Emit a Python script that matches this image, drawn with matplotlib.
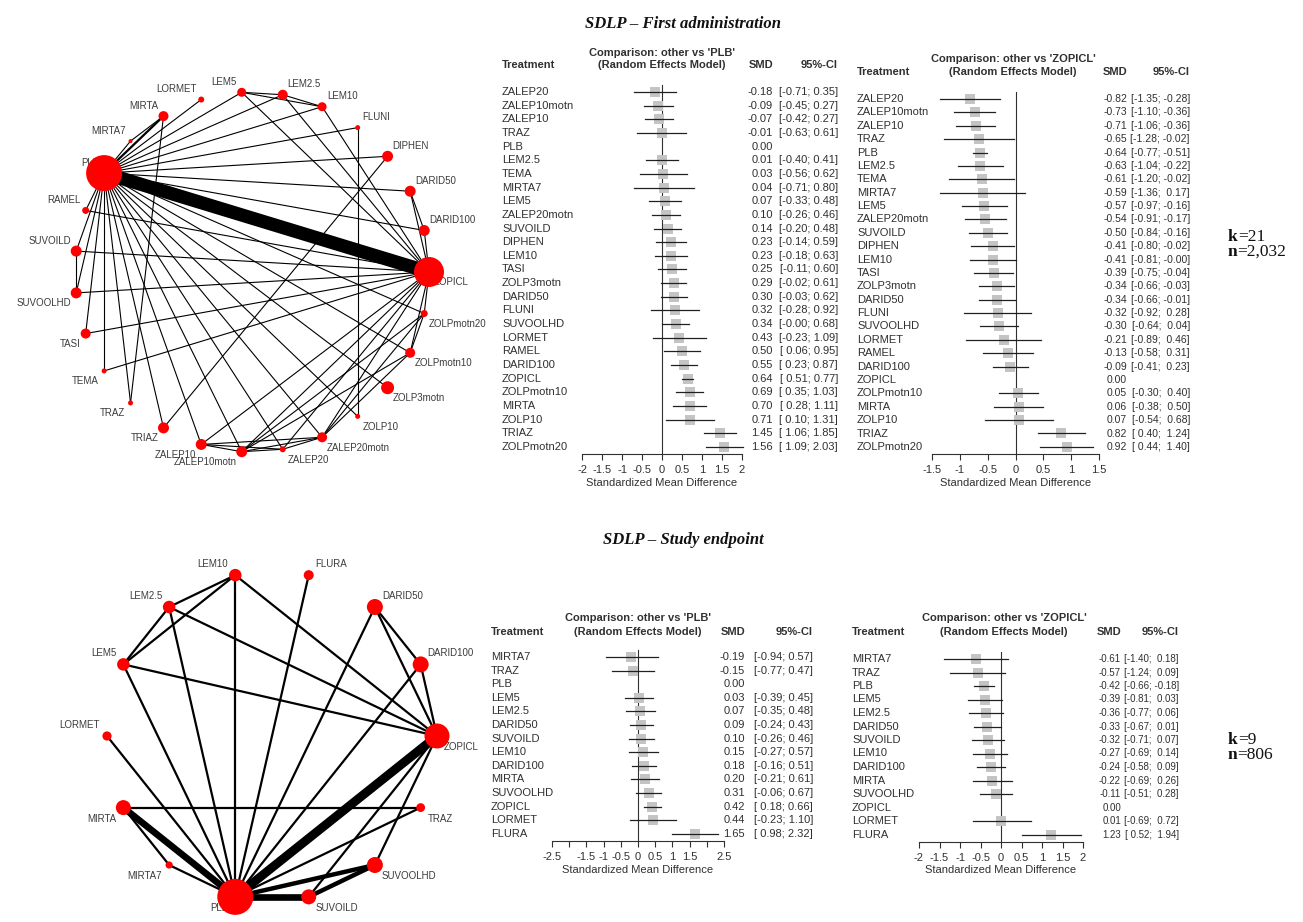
import numpy as np
import matplotlib.pyplot as plt

plt.rcParams['font.family'] = ['Liberation Sans', 'DejaVu Sans']

W, H = 1303, 922
INK = '#303030'
nan = np.nan

# ---------------- SDLP - first administration ----------------
# network: treatments (alphabetical, as placed around the circle)
net1_trt = ['DARID100', 'DARID50', 'DIPHEN', 'FLUNI', 'LEM10', 'LEM2.5', 'LEM5',
            'LORMET', 'MIRTA', 'MIRTA7', 'PLB', 'RAMEL', 'SUVOILD', 'SUVOOLHD',
            'TASI', 'TEMA', 'TRAZ', 'TRIAZ', 'ZALEP10', 'ZALEP10motn', 'ZALEP20',
            'ZALEP20motn', 'ZOLP10', 'ZOLP3motn', 'ZOLPmotn10', 'ZOLPmotn20', 'ZOPICL']
# participants per treatment
net1_n = [110, 110, 110, 50, 90, 100, 90, 60, 100, 40, 360, 70, 110, 110,
          100, 50, 50, 110, 110, 110, 60, 100, 50, 130, 100, 70, 300]
# direct comparisons: (treatment, treatment, number of studies)
net1_edges = [
    ('PLB', 'ZOPICL', 12), ('PLB', 'MIRTA', 2), ('PLB', 'DARID100', 1), ('PLB', 'DARID50', 1),
    ('PLB', 'DIPHEN', 1), ('PLB', 'FLUNI', 1), ('PLB', 'LEM10', 1), ('PLB', 'LEM2.5', 1),
    ('PLB', 'LEM5', 1), ('PLB', 'LORMET', 1), ('PLB', 'MIRTA7', 1), ('PLB', 'RAMEL', 1),
    ('PLB', 'SUVOILD', 1), ('PLB', 'SUVOOLHD', 1), ('PLB', 'TASI', 1), ('PLB', 'TEMA', 1),
    ('PLB', 'TRAZ', 1), ('PLB', 'TRIAZ', 1), ('PLB', 'ZALEP10', 1), ('PLB', 'ZALEP10motn', 1),
    ('PLB', 'ZALEP20', 1), ('PLB', 'ZALEP20motn', 1), ('PLB', 'ZOLP10', 1), ('PLB', 'ZOLP3motn', 1),
    ('PLB', 'ZOLPmotn10', 1), ('PLB', 'ZOLPmotn20', 1),
    ('MIRTA', 'MIRTA7', 1), ('MIRTA', 'TRAZ', 1),
    ('LEM10', 'LEM2.5', 1), ('LEM10', 'LEM5', 1), ('LEM2.5', 'LEM5', 1),
    ('LEM10', 'ZOPICL', 1), ('LEM2.5', 'ZOPICL', 1), ('LEM5', 'ZOPICL', 1),
    ('FLUNI', 'ZOLP10', 1), ('DIPHEN', 'TRIAZ', 1),
    ('DARID100', 'DARID50', 1), ('DARID100', 'ZOPICL', 1), ('DARID50', 'ZOPICL', 1),
    ('RAMEL', 'ZOPICL', 1), ('SUVOILD', 'ZOPICL', 1), ('SUVOOLHD', 'ZOPICL', 1),
    ('SUVOILD', 'SUVOOLHD', 1), ('TASI', 'ZOPICL', 1), ('TEMA', 'ZOPICL', 1),
    ('ZALEP10', 'ZALEP20', 1), ('ZALEP10', 'ZOPICL', 1), ('ZALEP20', 'ZOPICL', 1),
    ('ZALEP10', 'ZALEP10motn', 1), ('ZALEP20', 'ZALEP20motn', 1),
    ('ZALEP10', 'ZALEP20motn', 1), ('ZALEP10motn', 'ZALEP20', 1),
    ('ZALEP10motn', 'ZALEP20motn', 1), ('ZALEP10motn', 'ZOLPmotn10', 1),
    ('ZALEP10motn', 'ZOLPmotn20', 1), ('ZALEP20motn', 'ZOLPmotn10', 1),
    ('ZALEP20motn', 'ZOLPmotn20', 1), ('ZOLPmotn10', 'ZOLPmotn20', 1),
    ('ZALEP10motn', 'ZOPICL', 1), ('ZALEP20motn', 'ZOPICL', 1),
    ('ZOLPmotn10', 'ZOPICL', 1), ('ZOLPmotn20', 'ZOPICL', 1),
]

# forest plots (same row order for both comparators)
first_trt = ['ZALEP20', 'ZALEP10motn', 'ZALEP10', 'TRAZ', 'PLB', 'LEM2.5', 'TEMA', 'MIRTA7',
             'LEM5', 'ZALEP20motn', 'SUVOILD', 'DIPHEN', 'LEM10', 'TASI', 'ZOLP3motn',
             'DARID50', 'FLUNI', 'SUVOOLHD', 'LORMET', 'RAMEL', 'DARID100', 'ZOPICL',
             'ZOLPmotn10', 'MIRTA', 'ZOLP10', 'TRIAZ', 'ZOLPmotn20']
first_plb_smd = [-0.18, -0.09, -0.07, -0.01, 0.00, 0.01, 0.03, 0.04, 0.07, 0.10, 0.14, 0.23, 0.23,
                 0.25, 0.29, 0.30, 0.32, 0.34, 0.43, 0.50, 0.55, 0.64, 0.69, 0.70, 0.71, 1.45, 1.56]
first_plb_lo = [-0.71, -0.45, -0.42, -0.63, nan, -0.40, -0.56, -0.71, -0.33, -0.26, -0.20, -0.14,
                -0.18, -0.11, -0.02, -0.03, -0.28, -0.0, -0.23, 0.06, 0.23, 0.51, 0.35, 0.28,
                0.10, 1.06, 1.09]
first_plb_hi = [0.35, 0.27, 0.27, 0.61, nan, 0.41, 0.62, 0.80, 0.48, 0.46, 0.48, 0.59, 0.63, 0.60,
                0.61, 0.62, 0.92, 0.68, 1.09, 0.95, 0.87, 0.77, 1.03, 1.11, 1.31, 1.85, 2.03]
first_zop_smd = [-0.82, -0.73, -0.71, -0.65, -0.64, -0.63, -0.61, -0.59, -0.57, -0.54, -0.50,
                 -0.41, -0.41, -0.39, -0.34, -0.34, -0.32, -0.30, -0.21, -0.13, -0.09, 0.00,
                 0.05, 0.06, 0.07, 0.82, 0.92]
first_zop_lo = [-1.35, -1.10, -1.06, -1.28, -0.77, -1.04, -1.20, -1.36, -0.97, -0.91, -0.84,
                -0.80, -0.81, -0.75, -0.66, -0.66, -0.92, -0.64, -0.89, -0.58, -0.41, nan,
                -0.30, -0.38, -0.54, 0.40, 0.44]
first_zop_hi = [-0.28, -0.36, -0.36, -0.02, -0.51, -0.22, -0.02, 0.17, -0.16, -0.17, -0.16,
                -0.02, -0.0, -0.04, -0.03, -0.01, 0.28, 0.04, 0.46, 0.31, 0.23, nan,
                0.40, 0.50, 0.68, 1.24, 1.40]

# ---------------- SDLP - study endpoint ----------------
net2_trt = ['DARID100', 'DARID50', 'FLURA', 'LEM10', 'LEM2.5', 'LEM5', 'LORMET',
            'MIRTA', 'MIRTA7', 'PLB', 'SUVOILD', 'SUVOOLHD', 'TRAZ', 'ZOPICL']
net2_n = [160, 160, 100, 125, 125, 125, 92, 150, 72, 360, 150, 160, 88, 250]
net2_edges = [
    ('PLB', 'ZOPICL', 4), ('PLB', 'MIRTA', 3), ('PLB', 'SUVOILD', 3), ('PLB', 'SUVOOLHD', 2),
    ('PLB', 'DARID100', 1), ('PLB', 'DARID50', 1), ('PLB', 'FLURA', 1), ('PLB', 'LEM10', 1),
    ('PLB', 'LEM2.5', 1), ('PLB', 'LEM5', 1), ('PLB', 'LORMET', 1), ('PLB', 'MIRTA7', 1),
    ('PLB', 'TRAZ', 1),
    ('SUVOILD', 'SUVOOLHD', 2), ('SUVOILD', 'ZOPICL', 1), ('SUVOOLHD', 'ZOPICL', 1),
    ('LEM10', 'LEM2.5', 1), ('LEM10', 'LEM5', 1), ('LEM2.5', 'LEM5', 1),
    ('LEM10', 'ZOPICL', 1), ('LEM2.5', 'ZOPICL', 1), ('LEM5', 'ZOPICL', 1),
    ('DARID100', 'DARID50', 1), ('DARID100', 'ZOPICL', 1), ('DARID50', 'ZOPICL', 1),
    ('MIRTA', 'TRAZ', 1), ('MIRTA', 'MIRTA7', 1),
]

end_trt = ['MIRTA7', 'TRAZ', 'PLB', 'LEM5', 'LEM2.5', 'DARID50', 'SUVOILD', 'LEM10',
           'DARID100', 'MIRTA', 'SUVOOLHD', 'ZOPICL', 'LORMET', 'FLURA']
end_plb_smd = [-0.19, -0.15, 0.00, 0.03, 0.07, 0.09, 0.10, 0.15, 0.18, 0.20, 0.31, 0.42, 0.44, 1.65]
end_plb_lo = [-0.94, -0.77, nan, -0.39, -0.35, -0.24, -0.26, -0.27, -0.16, -0.21, -0.06, 0.18, -0.23, 0.98]
end_plb_hi = [0.57, 0.47, nan, 0.45, 0.48, 0.43, 0.46, 0.57, 0.51, 0.61, 0.67, 0.66, 1.10, 2.32]
end_zop_smd = [-0.61, -0.57, -0.42, -0.39, -0.36, -0.33, -0.32, -0.27, -0.24, -0.22, -0.11, 0.00, 0.01, 1.23]
end_zop_lo = [-1.40, -1.24, -0.66, -0.81, -0.77, -0.67, -0.71, -0.69, -0.58, -0.69, -0.51, nan, -0.69, 0.52]
end_zop_hi = [0.18, 0.09, -0.18, 0.03, 0.06, 0.01, 0.07, 0.14, 0.09, 0.26, 0.28, nan, 0.72, 1.94]

fig = plt.figure(figsize=(W / 100, H / 100), dpi=100)

# full-size overlay in pixel units for loose text
bg = fig.add_axes([0, 0, 1, 1])
bg.set_xlim(0, W)
bg.set_ylim(H, 0)
bg.axis('off')


def px_axes(x0, y0, x1, y1):
    """Axes from a pixel box measured from the top-left corner."""
    return fig.add_axes([x0 / W, 1 - y1 / H, (x1 - x0) / W, (y1 - y0) / H])


def network(box, trt, n_part, edges, lw_unit, lab_dx, lab_dy):
    ax = px_axes(*box)
    ax.set_xlim(-1, 1)
    ax.set_ylim(-1, 1)
    ax.axis('off')
    k = len(trt)
    ang = 2 * np.pi * (np.arange(k) + 1) / k
    xs, ys = np.cos(ang), np.sin(ang)
    pos = {t: i for i, t in enumerate(trt)}
    for a, b, studies in edges:
        i, j = pos[a], pos[b]
        ax.plot([xs[i], xs[j]], [ys[i], ys[j]], color='black', lw=studies * lw_unit,
                solid_capstyle='butt', zorder=1, clip_on=False)
    # radius in px = participants / 20
    diam_pt = np.array(n_part) / 20 * 2 * 0.72
    ax.scatter(xs, ys, s=diam_pt ** 2, color='#ff0000', linewidths=0, zorder=3, clip_on=False)
    for t, x, y in zip(trt, xs, ys):
        right = x >= 0
        up = y >= 0
        ax.annotate(t, (x, y), xytext=(lab_dx if right else -lab_dx, lab_dy if up else -lab_dy),
                    textcoords='offset points', ha='left' if right else 'right', va='center',
                    fontsize=7, color='#3c3c3c', zorder=2)


def ci_text(lo, hi):
    ok = ~np.isnan(lo)
    lo_s = [f'{v:.2f}' for v in lo[ok]]
    hi_s = [f'{v:.2f}' for v in hi[ok]]
    wl = max(len(s) for s in lo_s)
    wh = max(len(s) for s in hi_s)
    out, it = [], iter(zip(lo_s, hi_s))
    for flag in ok:
        if flag:
            a, b = next(it)
            out.append(f'[{a:>{wl}}; {b:>{wh}}]')
        else:
            out.append('')
    return out


def forest(trt, smd, lo, hi, ref, L, ticks, blank=(), num_size=8):
    smd, lo, hi = np.array(smd), np.array(lo), np.array(hi)
    x0, x1 = L['plot']
    y0, dy = L['row0'], L['step']
    n = len(trt)
    y_axis = y0 + (n - 1) * dy + 7
    ax = px_axes(x0, y0 - dy, x1, y_axis)
    bottom = (y_axis - y0) / dy
    ax.set_xlim(ticks[0], ticks[-1])
    ax.set_ylim(bottom, -1)
    ax.patch.set_visible(False)
    for s in ('top', 'left', 'right'):
        ax.spines[s].set_visible(False)
    ax.spines['bottom'].set_color(INK)
    ax.spines['bottom'].set_linewidth(0.8)
    ax.set_yticks([])
    ax.set_xticks(ticks)
    ax.set_xticklabels(['' if t in blank else f'{t:g}' for t in ticks])
    ax.tick_params(axis='x', direction='out', length=4, width=0.8, pad=4,
                   labelsize=8, colors=INK)
    ax.set_xlabel('Standardized Mean Difference', fontsize=8, color=INK, labelpad=2)

    ax.plot([0, 0], [bottom, -0.5], color=INK, lw=0.8, clip_on=False)
    rows = np.arange(n)
    for i in rows:
        if trt[i] == ref:
            continue
        ax.plot(smd[i], i, marker='s', ms=7.2, color='#c4c4c4', mew=0, zorder=2, clip_on=False)
        ax.plot([lo[i], hi[i]], [i, i], color='#202020', lw=0.9, zorder=3, clip_on=False)

    tr = ax.get_yaxis_transform()
    fx = lambda p: (p - x0) / (x1 - x0)
    fy = lambda p: (p - y0) / dy
    kw = dict(transform=tr, color=INK, va='center', clip_on=False)
    cis = ci_text(lo, hi)
    for i in rows:
        ax.text(fx(L['name']), i, trt[i], ha='left', fontsize=8, **kw)
        ax.text(fx(L['smd']), i, f'{smd[i]:.2f}', ha='right', fontsize=num_size, **kw)
        ax.text(fx(L['ci']), i, cis[i], ha='right', fontsize=num_size, **kw)
    hk = dict(kw, fontsize=8, weight='bold')
    ax.text(fx(L['name']), fy(L['h2']), 'Treatment', ha='left', **hk)
    ax.text(fx(L['hc']), fy(L['h1']), f"Comparison: other vs '{ref}'", ha='center', **hk)
    ax.text(fx(L['hc']), fy(L['h2']), '(Random Effects Model)', ha='center', **hk)
    ax.text(fx(L['smd']), fy(L['h2']), 'SMD', ha='right', **hk)
    ax.text(fx(L['ci']), fy(L['h2']), '95%-CI', ha='right', **hk)


def k_n(x, y, k, n):
    serif = dict(family='Liberation Serif', fontsize=12.5, va='center', color='#111111')
    for yy, key, val in ((y, 'k', k), (y + 15, 'n', n)):
        t = bg.text(x, yy, key, weight='bold', **serif)
        bg.annotate(val, xy=(1, 0.5), xycoords=t, ha='left', **serif)


title_kw = dict(family='Liberation Serif', weight='bold', style='italic', fontsize=12,
                ha='center', va='center', color='#111111')

# top row
bg.text(683, 24, 'SDLP \u2013 First administration', **title_kw)
network((75, 92, 429, 452), net1_trt, net1_n, net1_edges, 0.8, 3.6, 7.5)
forest(first_trt, first_plb_smd, first_plb_lo, first_plb_hi, 'PLB',
       dict(plot=(582, 742), row0=92, step=13.65, name=502, smd=773, ci=838, hc=662, h1=53, h2=65),
       np.arange(-2, 2.01, 0.5))
forest(first_trt, first_zop_smd, first_zop_lo, first_zop_hi, 'ZOPICL',
       dict(plot=(932, 1099), row0=99, step=13.38, name=857, smd=1127, ci=1190, hc=1013, h1=59, h2=72),
       np.arange(-1.5, 1.51, 0.5), num_size=7.5)
k_n(1228, 237, '=21', '=2,032')

# bottom row
bg.text(683, 540, 'SDLP \u2013 Study endpoint', **title_kw)
network((107, 571, 437, 901), net2_trt, net2_n, net2_edges, 1.6, 5, 8)
forest(end_trt, end_plb_smd, end_plb_lo, end_plb_hi, 'PLB',
       dict(plot=(552, 724), row0=657, step=13.6, name=491, smd=745, ci=813, hc=638, h1=618, h2=632),
       np.arange(-2.5, 2.51, 0.5), blank=(-2.0, 2.0))
forest(end_trt, end_zop_smd, end_zop_lo, end_zop_hi, 'ZOPICL',
       dict(plot=(919, 1083), row0=659, step=13.5, name=852, smd=1121, ci=1179, hc=1004, h1=618, h2=632),
       np.arange(-2, 2.01, 0.5), num_size=7)
k_n(1228, 740, '=9', '=806')

fig.savefig('out.png', dpi=100, facecolor='white')
